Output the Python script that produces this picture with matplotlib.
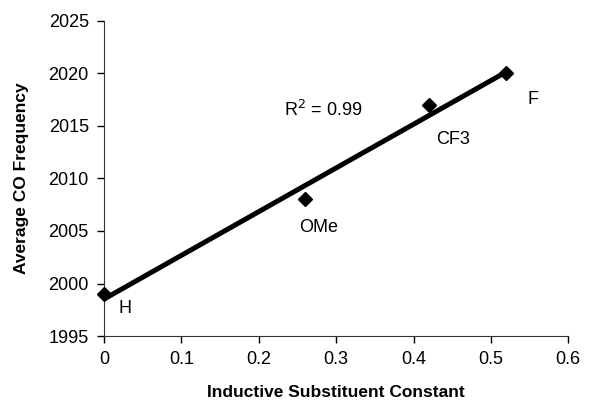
import matplotlib.pyplot as plt
import numpy as np

plt.rcParams['font.family'] = ['Liberation Sans', 'DejaVu Sans']

# inductive substituent constant vs average CO frequency
labels = ['H', 'OMe', 'CF3', 'F']
sigma_i = [0.0, 0.26, 0.42, 0.52]
co_freq = [1999, 2008, 2017, 2020]

# label positions (data coords)
label_x = [0.027, 0.277, 0.451, 0.555]
label_y = [1997.6, 2005.3, 2013.7, 2017.5]

slope, intercept = np.polyfit(sigma_i, co_freq, 1)
x_fit = np.array([min(sigma_i), max(sigma_i)])

fig = plt.figure(figsize=(6.09, 4.01), dpi=100)
ax = fig.add_axes([0.171, 0.162, 0.762, 0.786])

ax.plot(x_fit, slope * x_fit + intercept, color='black', lw=3.6, solid_capstyle='butt', zorder=2)
ax.plot(sigma_i, co_freq, 'D', color='black', ms=7.5, zorder=3, clip_on=False)

for lab, lx, ly in zip(labels, label_x, label_y):
    ax.text(lx, ly, lab, fontsize=13, ha='center', va='center')

ax.text(0.283, 2016.5, r'R$^2$ = 0.99', fontsize=13, ha='center', va='center')

ax.set_xlim(0, 0.6)
ax.set_ylim(1995, 2025)
ax.set_xticks(np.arange(0, 0.61, 0.1))
ax.set_xticklabels(['0', '0.1', '0.2', '0.3', '0.4', '0.5', '0.6'])
ax.set_yticks(np.arange(1995, 2026, 5))
ax.tick_params(labelsize=13, direction='out', length=5, width=1, pad=6)
ax.spines['top'].set_visible(False)
ax.spines['right'].set_visible(False)
for s in ['left', 'bottom']:
    ax.spines[s].set_color('#333333')

ax.set_xlabel('Inductive Substituent Constant', fontsize=12.5, fontweight='bold', labelpad=12)
ax.set_ylabel('Average CO Frequency', fontsize=12.5, fontweight='bold', labelpad=14)

fig.savefig('out.png', dpi=100)
